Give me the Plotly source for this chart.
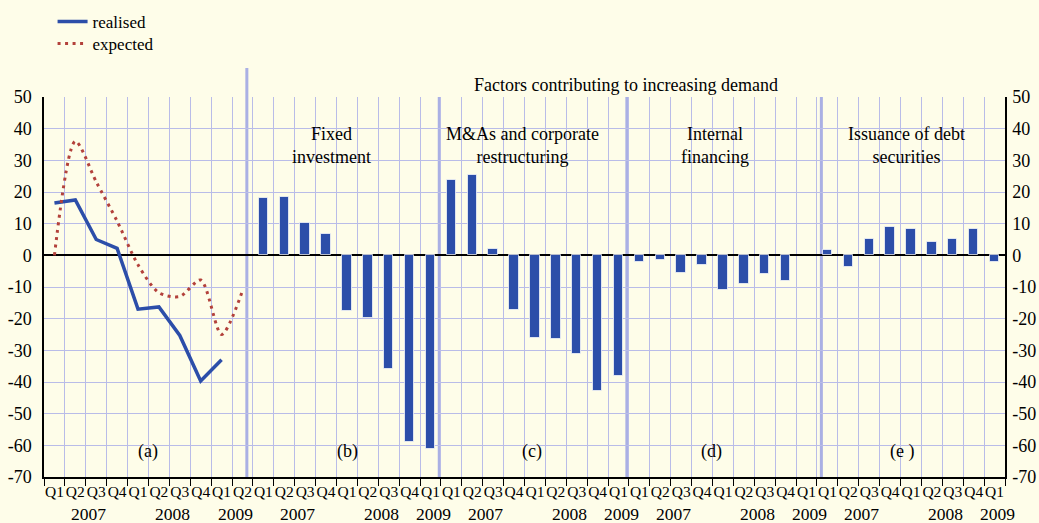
import plotly.graph_objects as go

# ---------------- data ----------------
quarters_a = ["Q1", "Q2", "Q3", "Q4", "Q1", "Q2", "Q3", "Q4", "Q1", "Q2"]
quarters_panel = ["Q1", "Q2", "Q3", "Q4", "Q1", "Q2", "Q3", "Q4", "Q1"]
years_a = [("2007", 4), ("2008", 4), ("2009", 2)]
years_panel = [("2007", 4), ("2008", 4), ("2009", 1)]
y_ticks = [50, 40, 30, 20, 10, 0, -10, -20, -30, -40, -50, -60, -70]

realised = [16.5, 17.5, 5.0, 2.2, -17.0, -16.3, -25.3, -39.7, -33.0]
expected = [0.0, 36.0, 23.2, 10.8, -3.0, -11.8, -13.0, -7.8, -25.0, -11.2]

fixed_investment = [18.0, 18.4, 10.3, 6.6, -17.6, -19.9, -35.8, -59.1, -61.3]
mergers = [23.8, 25.3, 2.0, -17.3, -26.1, -26.4, -31.3, -42.9, -38.0]
internal_financing = [-2.2, -1.5, -5.6, -3.0, -10.9, -9.0, -6.0, -8.0, None]
debt_securities = [1.7, -3.6, 5.2, 8.9, 8.2, 4.2, 5.2, 8.2, -2.2]

panel_titles = ["Fixed<br>investment", "M&As and corporate<br>restructuring",
                "Internal<br>financing", "Issuance of debt<br>securities"]
panel_letters = ["(a)", "(b)", "(c)", "(d)", "(e )"]
header = "Factors contributing to increasing demand"

# ---------------- styling ----------------
BG = "#fefde9"
GRID = "#b9bce8"
SEP = "#aab0e4"
BLUE = "#2c4ea9"
RED = "#b3413b"
FONT = "Liberation Serif"
TXT = 18

panels = [fixed_investment, mergers, internal_financing, debt_securities]
n_a = len(quarters_a)
n_p = len(quarters_panel)
n_total = n_a + n_p * len(panels)

tick_text = quarters_a + quarters_panel * len(panels)
centers = list(range(n_total))
y_tick_text = [str(v) for v in y_ticks]

bar_x, bar_y = [], []
for i, vals in enumerate(panels):
    start = n_a + i * n_p
    for j, v in enumerate(vals):
        bar_x.append(start + j)
        bar_y.append(v)

fig = go.Figure()

fig.add_trace(go.Bar(
    x=bar_x, y=bar_y, yaxis="y2", width=0.45,
    marker=dict(color=BLUE, line=dict(color="rgba(255,255,255,0.7)", width=1)),
    showlegend=False, hoverinfo="skip",
))
fig.add_trace(go.Scatter(
    x=list(range(len(realised))), y=realised, mode="lines", name="realised",
    line=dict(color=BLUE, width=3.5), legend="legend",
))
fig.add_trace(go.Scatter(
    x=list(range(len(expected))), y=expected, mode="lines", name="expected",
    line=dict(color=RED, width=3, dash="3px,4.5px", shape="spline", smoothing=0.8),
    legend="legend2",
))

# separators between panels
sep_pos = [9.21, 18.42, 27.4, 36.71]
shapes = []
for k, xp in enumerate(sep_pos):
    shapes.append(dict(type="line", xref="x", yref="paper", x0=xp, x1=xp,
                       y0=0, y1=(1.076 if k == 0 else 1.0),
                       line=dict(color=SEP, width=3), layer="below"))

annotations = []
annotations.append(dict(x=27.38, y=1.031, xref="x", yref="paper", text=header,
                        showarrow=False, font=dict(size=TXT, color="black"),
                        xanchor="center", yanchor="middle"))
title_x = [13.27, 22.42, 31.6, 40.79]
for tx, t in zip(title_x, panel_titles):
    annotations.append(dict(x=tx, y=34.6, xref="x", yref="y", text=t, showarrow=False,
                            font=dict(size=TXT, color="black"), align="center",
                            xanchor="center", yanchor="middle"))
letter_x = [4.47, 14.04, 22.85, 31.46, 40.56]
for lx, t in zip(letter_x, panel_letters):
    annotations.append(dict(x=lx, y=-62, xref="x", yref="y", text=t, showarrow=False,
                            font=dict(size=TXT, color="black"),
                            xanchor="center", yanchor="middle"))

# year labels under the quarters
groups = [(0, years_a)] + [(n_a + i * n_p, years_panel) for i in range(len(panels))]
for start, yrs in groups:
    pos = start
    for label, count in yrs:
        c = pos + (count - 1) / 2 + 0.15
        annotations.append(dict(x=c, y=-0.097, xref="x", yref="paper", text=label,
                                showarrow=False, font=dict(size=17.5, color="black"),
                                xanchor="center", yanchor="middle"))
        pos += count

leg_common = dict(xref="container", yref="paper", xanchor="left", yanchor="top",
                  bgcolor="rgba(0,0,0,0)", font=dict(size=17), itemwidth=30)

fig.update_layout(
    width=1039, height=523,
    margin=dict(l=44, r=34, t=97, b=46, autoexpand=False),
    paper_bgcolor=BG, plot_bgcolor=BG,
    font=dict(family=FONT, size=16, color="black"),
    bargap=0,
    showlegend=True,
    legend=dict(x=0.0506, y=1.245, **leg_common),
    legend2=dict(x=0.0506, y=1.187, **leg_common),
    xaxis=dict(
        range=[-0.5, n_total - 0.5], automargin=False, tickangle=0,
        tickmode="array", tickvals=centers, ticktext=tick_text,
        ticks="", showgrid=False, zeroline=False,
        showline=True, linecolor="black", linewidth=1.5,
        tickfont=dict(size=15.5),
        minor=dict(tickmode="array", tickvals=[k - 0.5 for k in range(n_total + 1)],
                   ticks="outside", ticklen=7, tickcolor="black", tickwidth=1,
                   showgrid=True, gridcolor=GRID, gridwidth=1),
    ),
    yaxis=dict(
        range=[-70, 50], tickmode="array", tickvals=y_ticks, ticktext=y_tick_text,
        automargin=False, ticklabelstandoff=7,
        showgrid=True, gridcolor=GRID, gridwidth=1.3,
        zeroline=True, zerolinecolor="black", zerolinewidth=1.5,
        showline=True, linecolor="black", linewidth=1.5,
        ticks="", tickfont=dict(size=18),
    ),
    yaxis2=dict(
        range=[-70, 50], tickmode="array", tickvals=y_ticks, ticktext=y_tick_text,
        automargin=False, ticklabelstandoff=2,
        overlaying="y", side="right", showgrid=False, zeroline=False,
        showline=True, linecolor="black", linewidth=1.5,
        ticks="", tickfont=dict(size=18),
    ),
    shapes=shapes,
    annotations=annotations,
)

fig.write_html(
    "out.html",
    config={"displayModeBar": False},
    post_script="document.body.style.margin='0';document.body.style.overflow='hidden';",
)
